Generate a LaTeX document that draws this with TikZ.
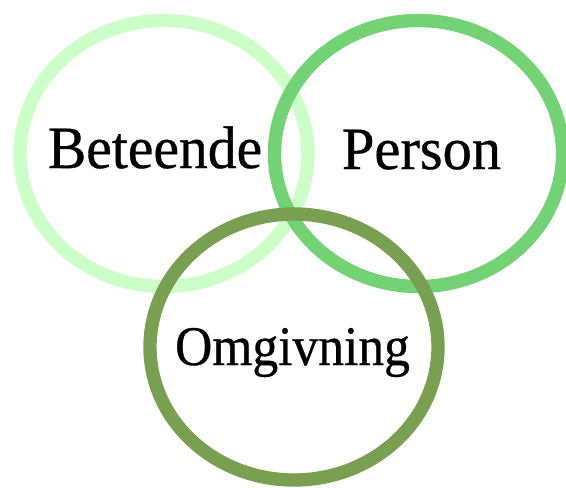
\documentclass[tikz,border=0pt]{standalone}
\usepackage{graphicx}
\usepackage{fontspec}
\setmainfont{Liberation Serif}
\newfontfamily\wordfont{Liberation Serif}[FakeBold=0.6]
\usepackage{tikz}
\usetikzlibrary{positioning,shapes.geometric}
\definecolor{leaf}   {HTML}{CCFFC8}
\definecolor{grass}  {HTML}{72D274}
\definecolor{moss}   {HTML}{799F50}
\newcommand{\squeeze}[2]{\scalebox{#1}[1]{#2}}
\tikzset{
  % --- rings
  ring/.style  = {ellipse, draw, line width=10pt, inner sep=0pt, outer sep=0pt,
                  minimum width=216pt, minimum height=199.5pt},
  % --- words
  word/.style  = {anchor=base, inner sep=0pt, font=\wordfont\fontsize{45}{48}\selectfont},
}
\begin{document}
\begin{tikzpicture}[x=0.75pt,y=-0.75pt]
  \useasboundingbox (0,0) rectangle (566,487);

  \node[ring, draw=leaf]  (beteende) at (164,153.5) {};
  \node[ring, draw=grass] (person)   at (418.5,153.5) {};
  \node[ring, draw=moss]  (omgivning) at (294,347) {};

  \node[word] (tBeteende)  at (155,168) {\squeeze{0.96}{Beteende}};
  \node[word] (tPerson)    at (421.5,169) {\squeeze{0.975}{Person}};
  \node[word, font=\wordfont\fontsize{42}{45}\selectfont] (tOmgivning) at (292.5,365) {\squeeze{0.92}{Omgivning}};
\end{tikzpicture}
\end{document}
